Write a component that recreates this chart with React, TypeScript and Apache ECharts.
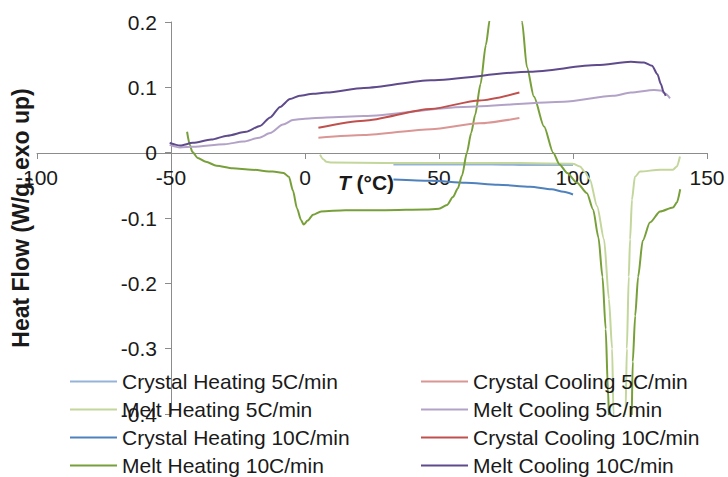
import React, { useEffect, useRef } from "react";
import * as echarts from "echarts";

const seriesNames = [
  "Crystal Heating 5C/min",
  "Melt Heating 5C/min",
  "Crystal Heating 10C/min",
  "Melt Heating 10C/min",
  "Crystal Cooling 5C/min",
  "Melt Cooling 5C/min",
  "Crystal Cooling 10C/min",
  "Melt Cooling 10C/min",
];
const leftLegend = [seriesNames[0], seriesNames[1], seriesNames[2], seriesNames[3]];
const rightLegend = [seriesNames[4], seriesNames[5], seriesNames[6], seriesNames[7]];

const seriesColors = ["#95B3D7", "#C3D69B", "#4F81BD", "#78A03A", "#DA9694", "#B3A2C7", "#C0504D", "#5F4B8B"];

const xTicks = { min: -100, max: 150, interval: 50 };
const yTicks = { min: -0.4, max: 0.2, interval: 0.1 };

const crystalHeating5 = [
  [33, -0.018], [50, -0.018], [70, -0.018], [85, -0.019], [100, -0.019],
];
const meltHeating5 = [
  [5.6, -0.003], [6.8, -0.01], [8, -0.014], [10, -0.015], [30, -0.016], [60, -0.016], [80, -0.016],
  [100, -0.017], [102.6, -0.021], [104.5, -0.03], [106.3, -0.041], [109, -0.082], [111.6, -0.133],
  [113.4, -0.224], [114.6, -0.3], [115.1, -0.4], [117.3, -0.52], [119.6, -0.4], [120.1, -0.3],
  [120.8, -0.19], [121.3, -0.133], [122, -0.072], [123.1, -0.037], [125, -0.029], [132.5, -0.026],
  [137.3, -0.026], [138.8, -0.021], [139.9, -0.006],
];
const crystalHeating10 = [
  [33, -0.041], [47, -0.043], [60, -0.046], [72, -0.049], [84, -0.052], [92, -0.056], [96.5, -0.06], [100, -0.064],
];
const meltHeating10 = [
  [-44, 0.032], [-43, 0.012], [-42, 0.001], [-40, -0.008], [-37, -0.014], [-33, -0.02], [-27, -0.024],
  [-20, -0.026], [-12, -0.029], [-8, -0.031], [-6, -0.037], [-4.5, -0.058], [-3, -0.085], [-1.5, -0.103],
  [-0.5, -0.11], [1, -0.104], [3, -0.095], [6, -0.09], [15, -0.088], [30, -0.088], [45, -0.087],
  [50, -0.086], [53, -0.08], [55.2, -0.068], [57, -0.055], [58.6, -0.035], [60.4, 0], [62, 0.03],
  [63.5, 0.058], [65.5, 0.105], [67.5, 0.165], [69, 0.205], [71, 0.3], [75, 0.45], [79, 0.3],
  [81, 0.2], [82.8, 0.131], [85.4, 0.086], [89.2, 0.04], [92.6, 0], [95, -0.018], [97.8, -0.031],
  [101.5, -0.046], [105.2, -0.062], [107.5, -0.087], [109.5, -0.13], [111, -0.19], [112.2, -0.27],
  [113, -0.36], [113.6, -0.42], [117.5, -0.6], [121.8, -0.42], [122.3, -0.32], [123.2, -0.25],
  [124.3, -0.19], [126, -0.135], [128.7, -0.107], [132.5, -0.09], [137.3, -0.084], [138.8, -0.076],
  [140, -0.056],
];
const crystalCooling5 = [
  [5, 0.023], [22, 0.027], [47, 0.036], [65, 0.045], [80, 0.053],
];
const meltCooling5 = [
  [-50.5, 0.012], [-46.6, 0.008], [-41.8, 0.009], [-30, 0.013], [-23, 0.017], [-17, 0.023], [-13, 0.03],
  [-8.2, 0.043], [-4.5, 0.05], [0, 0.052], [8, 0.054], [22, 0.056], [59, 0.07], [96.6, 0.078],
  [115, 0.087], [121.6, 0.092], [130.2, 0.096], [132.8, 0.095], [134.5, 0.09], [136.2, 0.083],
];
const crystalCooling10 = [
  [5, 0.038], [22, 0.049], [47, 0.067], [65, 0.08], [80, 0.092],
];
const meltCooling10 = [
  [-50.5, 0.015], [-46.6, 0.011], [-41.8, 0.015], [-35, 0.02], [-29, 0.026], [-22, 0.032], [-16.8, 0.041],
  [-13, 0.054], [-9.3, 0.07], [-5.6, 0.082], [-2, 0.087], [3, 0.09], [8, 0.092], [22, 0.099],
  [47, 0.111], [84, 0.124], [109, 0.134], [121.6, 0.139], [126.5, 0.138], [129.5, 0.133],
  [131.5, 0.12], [132.8, 0.105], [133.8, 0.093], [134.6, 0.087],
];

const seriesData = [
  crystalHeating5, meltHeating5, crystalHeating10, meltHeating10,
  crystalCooling5, meltCooling5, crystalCooling10, meltCooling10,
];

const FONT = "'Liberation Sans', Arial, sans-serif";

export default function App() {
  const ref = useRef<HTMLDivElement>(null);
  useEffect(() => {
    if (!ref.current) return;
    const chart = echarts.init(ref.current, null, { renderer: "svg" });
    const legendCommon = {
      orient: "vertical" as const,
      icon: "rect",
      itemWidth: 47,
      itemHeight: 2,
      itemGap: 7,
      padding: 0,
      top: 371,
      textStyle: { fontFamily: FONT, fontSize: 21, color: "#1a1a1a" },
    };
    chart.setOption({
      animation: false,
      backgroundColor: "#ffffff",
      textStyle: { fontFamily: FONT },
      grid: { left: 37, right: 21, top: 22, bottom: 63, containLabel: false, outerBoundsMode: "none" },
      legend: [
        { ...legendCommon, left: 70, data: leftLegend },
        { ...legendCommon, left: 421, data: rightLegend },
      ],
      xAxis: {
        type: "value",
        position: "bottom",
        offset: -261,
        min: xTicks.min,
        max: xTicks.max,
        interval: xTicks.interval,
        axisLine: { onZero: false, lineStyle: { color: "#8c8c8c", width: 1 } },
        axisTick: { show: true, length: 6, lineStyle: { color: "#8c8c8c" } },
        splitLine: { show: false },
        axisLabel: { fontSize: 21, color: "#1a1a1a", margin: 14, fontFamily: FONT },
        name: "{i|T} (°C)",
        nameLocation: "middle",
        nameGap: 19,
        nameMoveOverlap: false,
        nameTextStyle: {
          fontFamily: FONT,
          fontSize: 21,
          fontWeight: "bold",
          color: "#1a1a1a",
          padding: [0, 12, 0, 0],
          rich: { i: { fontFamily: FONT, fontSize: 21, fontWeight: "bold", fontStyle: "italic", color: "#1a1a1a" } },
        },
      },
      yAxis: {
        type: "value",
        min: yTicks.min,
        max: yTicks.max,
        interval: yTicks.interval,
        offset: -134,
        axisLine: { show: true, onZero: false, lineStyle: { color: "#8c8c8c", width: 1 } },
        axisTick: { show: true, length: 6, lineStyle: { color: "#8c8c8c" } },
        splitLine: { show: false },
        axisLabel: { fontSize: 21, color: "#1a1a1a", margin: 14, fontFamily: FONT },
        name: "Heat Flow (W/g, exo up)",
        nameLocation: "middle",
        nameGap: 139,
        nameMoveOverlap: false,
        nameTextStyle: { fontFamily: FONT, fontSize: 23, fontWeight: "bold", color: "#1a1a1a" },
      },
      series: seriesNames.map((name, i) => ({
        name,
        type: "line",
        data: seriesData[i],
        showSymbol: false,
        symbol: "none",
        smooth: 0.25,
        smoothMonotone: "x",
        clip: true,
        color: seriesColors[i],
        lineStyle: { color: seriesColors[i], width: 2 },
      })),
    });
    return () => chart.dispose();
  }, []);
  return <div ref={ref} style={{ position: "fixed", left: 0, top: 0, width: 728, height: 477 }} />;
}
